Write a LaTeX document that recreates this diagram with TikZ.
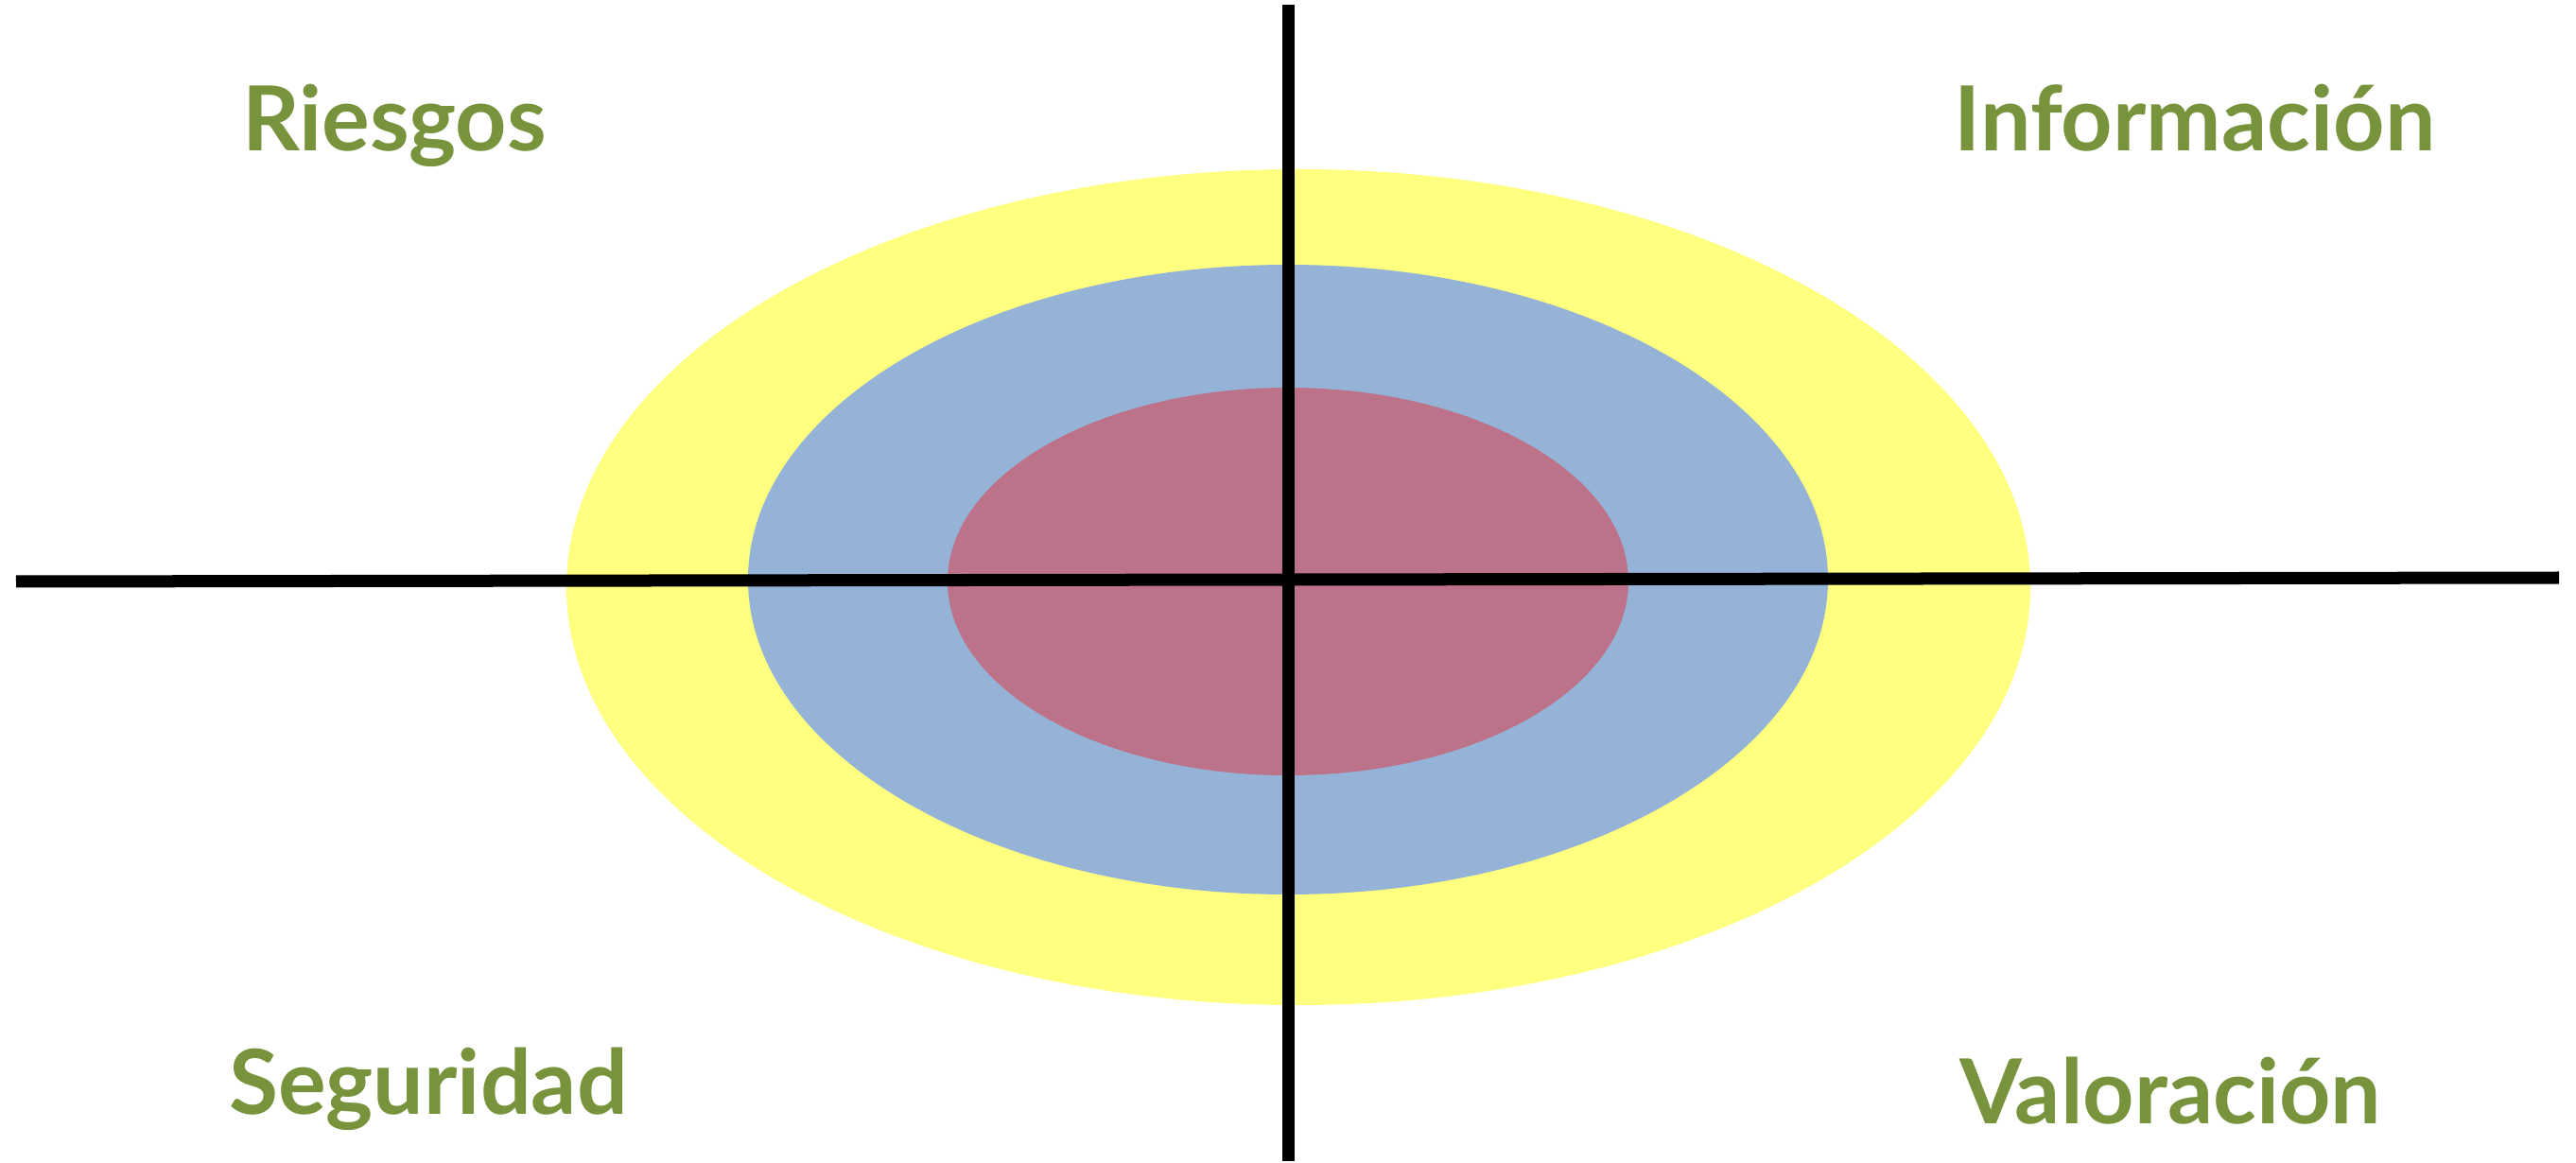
\documentclass[tikz,border=0pt]{standalone}
\usepackage{fontspec}
\setmainfont{Lato}
\usepackage{tikz}
\usetikzlibrary{positioning,calc}
\usepackage{xcolor}
\definecolor{verdeoliva}{RGB}{119,147,60}
\definecolor{amarillo}{RGB}{255,255,128}
\definecolor{azulclaro}{RGB}{149,179,215}
\definecolor{rosaoscuro}{RGB}{188,114,136}

\tikzset{
    etiqueta/.style={font=\fontsize{27}{30}\selectfont\bfseries, text=verdeoliva, anchor=base, inner sep=0pt},
    eje/.style={line width=3.7pt, black}
}

\begin{document}
\begin{tikzpicture}
    \useasboundingbox (0,0) rectangle (27.24,12.29);

    % Nested ellipses
    \fill[amarillo] (13.73,6.08) ellipse [x radius=7.74, y radius=4.42];
    \fill[azulclaro] (13.62,6.16) ellipse [x radius=5.71, y radius=3.33];
    \fill[rosaoscuro] (13.62,6.14) ellipse [x radius=3.60, y radius=2.05];

    % Axes
    \coordinate (izq) at (0.17,6.14);
    \coordinate (der) at (27.06,6.18);
    \coordinate (arriba) at (13.62,12.24);
    \coordinate (abajo) at (13.62,0.01);
    \draw[eje] (izq) -- (der);
    \draw[eje] (arriba) -- (abajo);

    % Quadrant labels
    \node[etiqueta] (riesgos) at (4.17,10.69) {Riesgos};
    \node[etiqueta] (informacion) at (23.21,10.69) {Información};
    \node[etiqueta] (seguridad) at (4.53,0.51) {Seguridad};
    \node[etiqueta] (valoracion) at (22.95,0.41) {Valoración};
\end{tikzpicture}
\end{document}
